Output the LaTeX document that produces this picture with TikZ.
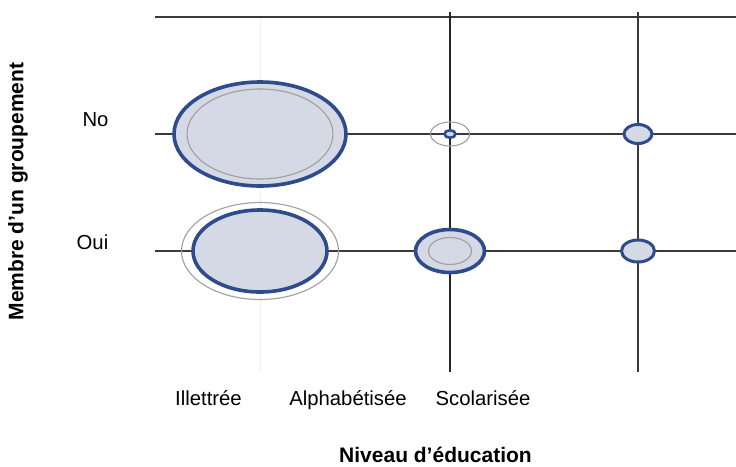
\documentclass[tikz,border=0pt]{standalone}
\usepackage{fontspec}
\setmainfont{Liberation Sans}
\usetikzlibrary{shapes.geometric}
\definecolor{bubfill}{HTML}{D5D9E6}
\definecolor{bubline}{HTML}{2E4B8C}
\definecolor{ringgray}{HTML}{A29E99}
\definecolor{gridline}{HTML}{3A3A3A}
\tikzset{
  bub/.style={ellipse, draw=bubline, fill=bubfill, line width=3.6pt, inner sep=0pt, outer sep=0pt},
  ring/.style={ellipse, draw=ringgray, line width=1.1pt, inner sep=0pt, outer sep=0pt},
  grid/.style={draw=gridline, line width=1.5pt},
  vmain/.style={draw=black!85, line width=2.6pt},
  faint/.style={draw=black!6, line width=1pt},
  lab/.style={font=\fontsize{20.3}{23}\selectfont, inner sep=0pt, anchor=base},
  axlab/.style={font=\fontsize{21}{24}\selectfont\bfseries, inner sep=0pt}
}
\begin{document}
\begin{tikzpicture}[x=1pt,y=-1pt]
\useasboundingbox (0,0) rectangle (736,466);
% grid coordinates
\coordinate (t0) at (155,17);  \coordinate (t1) at (736,17);
\coordinate (n0) at (155,134); \coordinate (n1) at (736,134);
\coordinate (o0) at (155,251); \coordinate (o1) at (736,251);
\coordinate (s0) at (450,12);  \coordinate (s1) at (450,372);
\coordinate (r0) at (638,12);  \coordinate (r1) at (638,372);
\coordinate (i0) at (260,17);  \coordinate (i1) at (260,372);
% grid lines
\draw[faint] (i0) -- (i1);
\draw[grid] (t0) -- (t1);
\draw[grid] (n0) -- (n1);
\draw[grid] (o0) -- (o1);
\draw[vmain] (s0) -- (s1);
\draw[grid] (r0) -- (r1);
% bubbles: Illettree
\node[bub, minimum width=172pt, minimum height=104pt] (ilno) at (260,134) {};
\node[ring, minimum width=146pt, minimum height=90pt] (ilnoin) at (260,134) {};
\node[ring, minimum width=157pt, minimum height=97pt] (iloui2) at (260,251) {};
\node[bub, minimum width=134pt, minimum height=82pt] (iloui) at (260,251) {};
% Scolarisee
\node[ring, minimum width=39pt, minimum height=24pt] (scno2) at (450,134) {};
\node[bub, line width=2.6pt, minimum width=11pt, minimum height=7.5pt] (scno) at (450,134) {};
\node[bub, minimum width=69pt, minimum height=43pt] (scoui) at (450,251) {};
\node[ring, minimum width=43pt, minimum height=27pt] (scouiin) at (450,251) {};
% right column
\node[bub, line width=3pt, minimum width=28pt, minimum height=19pt] (rno) at (638,134) {};
\node[bub, line width=3pt, minimum width=33pt, minimum height=22pt] (roui) at (638,251) {};
% labels
\node[lab] (lno) at (95.5,126) {No};
\node[lab] (loui) at (92.5,249) {Oui};
\node[lab] (lil) at (208.5,405) {Illettrée};
\node[lab] (lal) at (348,405) {Alphabétisée};
\node[lab] (lsc) at (483,405) {Scolarisée};
\node[axlab, anchor=base] (xl) at (435.5,462) {Niveau d’éducation};
\node[axlab, rotate=90] (yl) at (18,191.5) {Membre d’un groupement};
\end{tikzpicture}
\end{document}
